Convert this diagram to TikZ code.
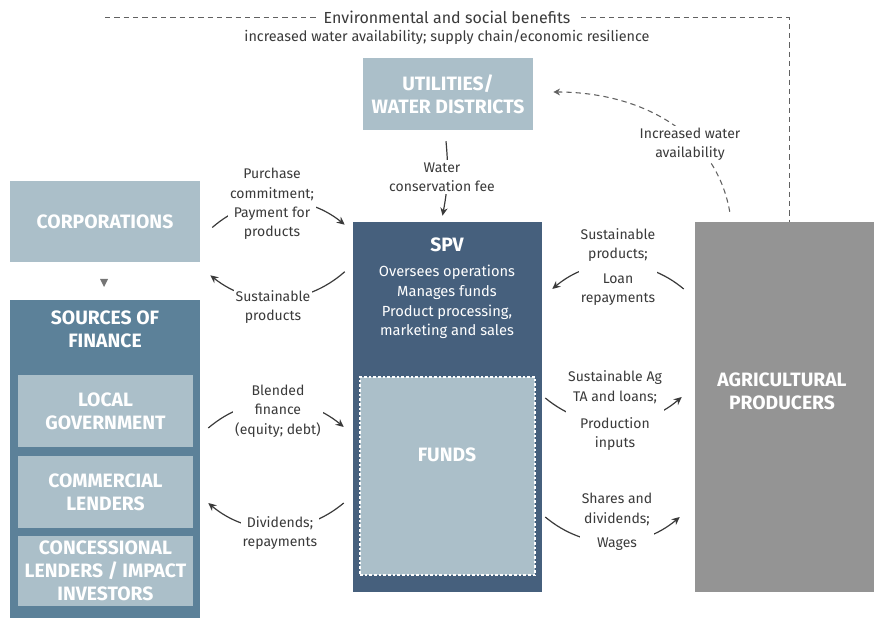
\documentclass[tikz,border=0pt]{standalone}
\usepackage{fontspec}
\setmainfont{Fira Sans}
\usetikzlibrary{arrows.meta}

\definecolor{paleblue}{HTML}{ABBFC9}
\definecolor{midblue}{HTML}{5C8199}
\definecolor{darkblue}{HTML}{46607D}
\definecolor{producergray}{HTML}{949494}
\definecolor{inkgray}{HTML}{3A3A3A}

\begin{document}
\begin{tikzpicture}[
    x=0.75pt, y=0.75pt,
    box/.style={inner sep=0pt, text=white, align=center, font=\fontsize{14.5}{17.25}\selectfont\bfseries},
    flow/.style={draw=inkgray, line width=0.9pt, -{Stealth[length=6pt,width=5.5pt]}},
    benefit/.style={draw=inkgray!80, line width=0.7pt, dash pattern=on 4pt off 3pt},
    note/.style={fill=white, text=inkgray, inner sep=1.5pt, align=center, font=\fontsize{10.5}{14.5}\selectfont}
]
\useasboundingbox (0,0) rectangle (874,618);

% Boxes
\node[box, fill=paleblue, minimum width=127.5pt, minimum height=54pt] (util) at (448,524) {UTILITIES/\\WATER DISTRICTS};
\node[box, fill=paleblue, minimum width=142.5pt, minimum height=60.75pt] (corp) at (105,396.5) {CORPORATIONS};
\node[box, fill=midblue, minimum width=142.5pt, minimum height=238.5pt] (src) at (105,159) {};
\node[box] (srctitle) at (105,289) {SOURCES OF\\FINANCE};
\node[box, fill=paleblue, minimum width=131.25pt, minimum height=54pt] (local) at (105.5,207) {LOCAL\\GOVERNMENT};
\node[box, fill=paleblue, minimum width=131.25pt, minimum height=54pt] (comm) at (105.5,126) {COMMERCIAL\\LENDERS};
\node[box, fill=paleblue, minimum width=131.25pt, minimum height=52.5pt] (conc) at (105.5,47) {CONCESSIONAL\\LENDERS / IMPACT\\INVESTORS};

\node[box, fill=darkblue, minimum width=141.75pt, minimum height=277.5pt] (spv) at (447.5,211) {};
\node[box] (spvtitle) at (447,373) {SPV};
\node[box, font=\fontsize{11}{14.8}\selectfont] (spvtasks) at (447,316) {Oversees operations\\Manages funds\\Product processing,\\marketing and sales};
\node[box, fill=paleblue, draw=white, line width=0.8pt, dash pattern=on 2pt off 1.5pt, minimum width=131.25pt, minimum height=148.5pt] (funds) at (447.5,142) {};
\node[box] (fundstitle) at (447,163) {FUNDS};

\node[box, fill=producergray, minimum width=134.25pt, minimum height=277.5pt] (agri) at (784.5,211) {};
\node[box] (agrititle) at (782,227) {AGRICULTURAL\\PRODUCERS};

% small marker between corporations and finance
\fill[inkgray!70] (100,339) -- (108,339) -- (104,331) -- cycle;

% Benefits line
\coordinate (benefitstart) at (105,601);
\draw[benefit] (benefitstart) -| ([shift={(4.5,0)}]agri.north);
\draw[benefit, line width=0.8pt, -{Stealth[length=5pt,width=5pt]}] ([shift={(35,10)}]agri.north west) to[out=100, in=0] ([shift={(20,2)}]util.east);

% Flows
\draw[flow] ([shift={(-2,-11)}]util.south) to[bend left=8] ([shift={(-5,6)}]spv.north);
\draw[flow] ([shift={(12,-6)}]corp.east) to[bend left=40] ([shift={(-8,-3)}]spv.north west);
\draw[flow] ([shift={(-8,-50)}]spv.north west) to[bend left=40] ([shift={(10,-13)}]corp.south east);
\draw[flow] ([shift={(8,31)}]src.east) to[bend left=40] ([shift={(-9,-20)}]spv.west);
\draw[flow] ([shift={(-9,-96)}]spv.west) to[bend left=40] ([shift={(8,-44)}]src.east);
\draw[flow] ([shift={(-11,118)}]agri.west) to[bend right=40] ([shift={(10,118)}]spv.east);
\draw[flow] ([shift={(3,9)}]spv.east) to[bend right=40] ([shift={(-13,10)}]agri.west);
\draw[flow] ([shift={(3,-110)}]spv.east) to[bend right=40] ([shift={(-15,-110)}]agri.west);

% Labels
\node[note, inner xsep=6pt, font=\fontsize{12}{14}\selectfont] (benefits) at (447,601) {Environmental and social benefits};
\node[note, font=\fontsize{10.8}{13}\selectfont] (benefitlist) at (447,581) {increased water availability; supply chain/economic resilience};
\node[note] (water) at (690,474) {Increased water\\availability};
\node[note] (fee) at (442,441) {Water\\conservation fee};
\node[note] (purchase) at (272,414) {Purchase\\commitment;\\Payment for\\products};
\node[note] (corpproducts) at (273,311) {Sustainable\\products};
\node[note] (blended) at (278,207) {Blended\\finance\\(equity; debt)};
\node[note] (dividends) at (280,85) {Dividends;\\repayments};
\node[note] (repay) at (618,351) {Sustainable\\products;\\[4pt]Loan\\repayments};
\node[note] (inputs) at (615,207) {Sustainable Ag\\TA and loans;\\[6pt]Production\\inputs};
\node[note] (wages) at (617,96) {Shares and\\dividends;\\[4pt]Wages};

\end{tikzpicture}
\end{document}
